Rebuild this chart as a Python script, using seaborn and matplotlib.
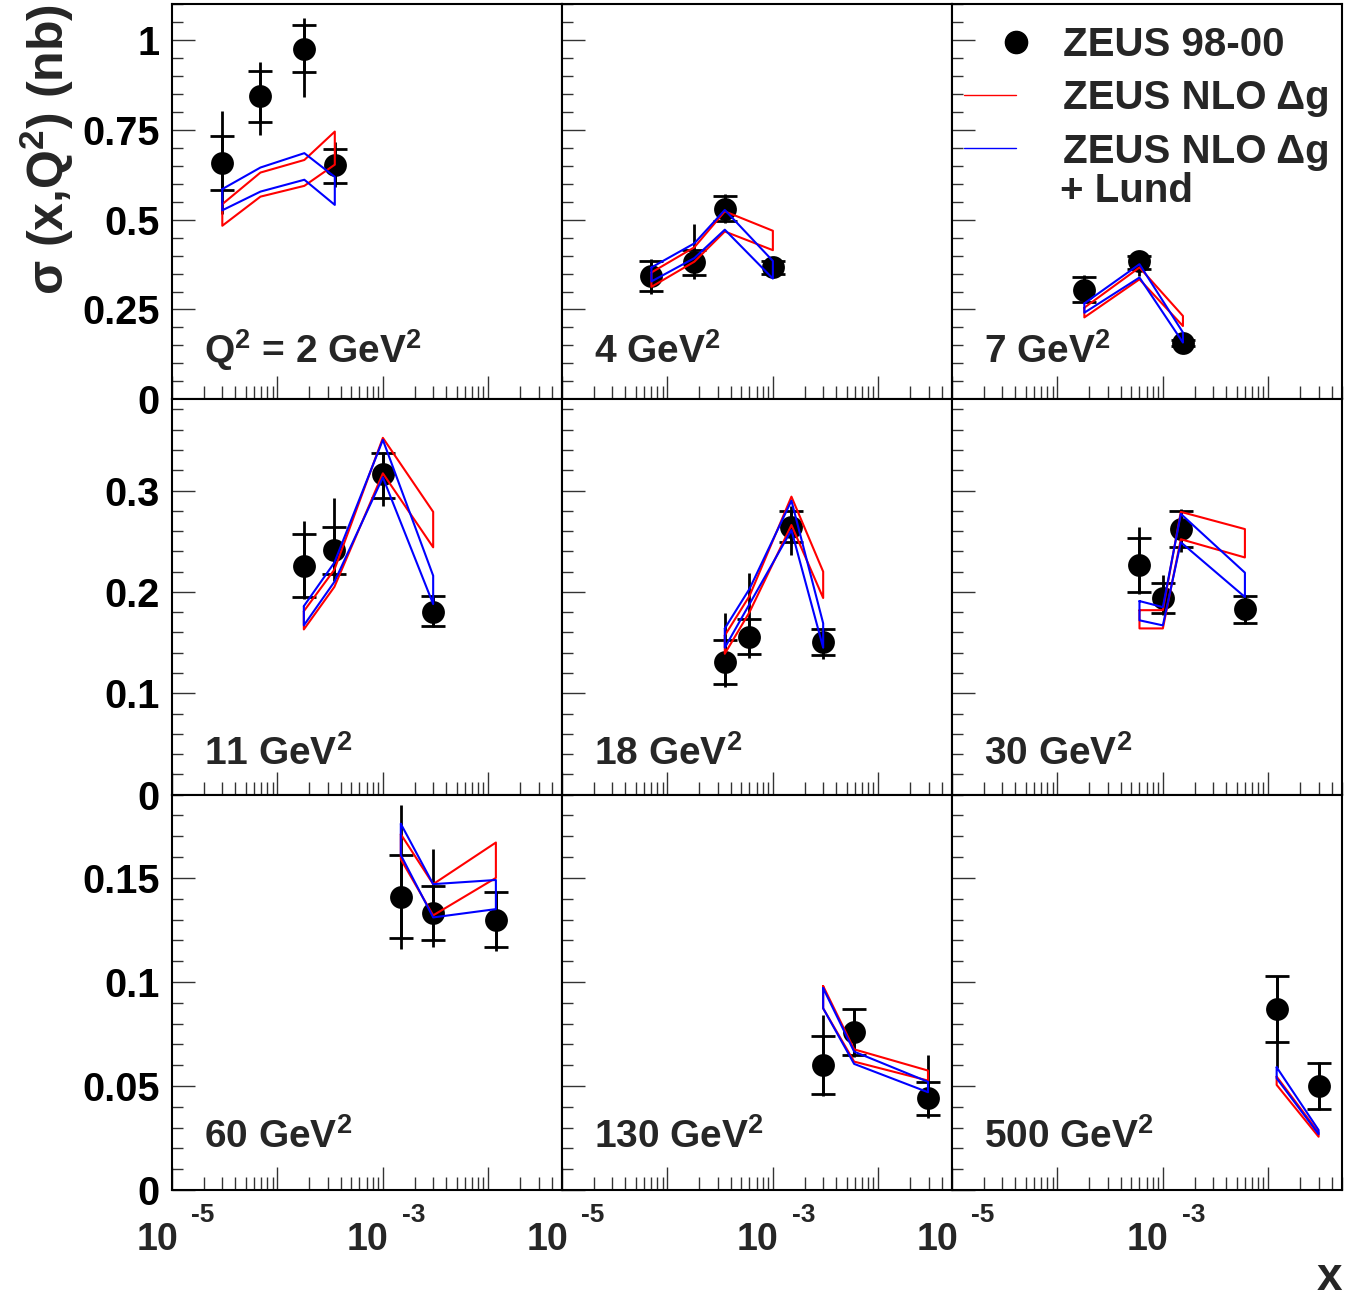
import numpy as np
import pandas as pd
import matplotlib
matplotlib.use('Agg')
import matplotlib.pyplot as plt
import seaborn as sns
from matplotlib.ticker import LogLocator, MultipleLocator, FuncFormatter, NullFormatter
from matplotlib.lines import Line2D
from matplotlib.legend_handler import HandlerLine2D

# Q^2 bins, one panel each
panel_labels = ['Q$^{2}$ = 2 GeV$^{2}$', '4 GeV$^{2}$', '7 GeV$^{2}$',
                '11 GeV$^{2}$', '18 GeV$^{2}$', '30 GeV$^{2}$',
                '60 GeV$^{2}$', '130 GeV$^{2}$', '500 GeV$^{2}$']

# x positions of the measured points in each panel
x_pts = [
    [3.0e-5, 6.9e-5, 1.8e-4, 3.5e-4],
    [7.05e-5, 1.8e-4, 3.5e-4, 1.0e-3],
    [1.8e-4, 6.0e-4, 1.55e-3],
    [1.78e-4, 3.47e-4, 1.0e-3, 3.0e-3],
    [3.5e-4, 6.0e-4, 1.5e-3, 3.0e-3],
    [6.0e-4, 1.0e-3, 1.48e-3, 6.0e-3],
    [1.48e-3, 3.0e-3, 1.18e-2],
    [3.0e-3, 5.9e-3, 2.96e-2],
    [1.2e-2, 3.0e-2],
]

# ZEUS 98-00 cross sections (nb)
sigma = [
    [0.657, 0.844, 0.975, 0.652],
    [0.343, 0.381, 0.529, 0.367],
    [0.305, 0.385, 0.156],
    [0.226, 0.241, 0.316, 0.180],
    [0.131, 0.156, 0.264, 0.151],
    [0.227, 0.194, 0.262, 0.183],
    [0.141, 0.133, 0.130],
    [0.060, 0.076, 0.044],
    [0.087, 0.050],
]

# statistical error edges (drawn with caps)
stat_hi = [
    [0.732, 0.914, 1.041, 0.696],
    [0.385, 0.415, 0.565, 0.385],
    [0.341, 0.400, 0.165],
    [0.257, 0.264, 0.337, 0.196],
    [0.153, 0.173, 0.280, 0.163],
    [0.253, 0.209, 0.280, 0.196],
    [0.161, 0.146, 0.143],
    [0.074, 0.087, 0.052],
    [0.103, 0.061],
]
stat_lo = [
    [0.583, 0.773, 0.912, 0.602],
    [0.302, 0.345, 0.497, 0.350],
    [0.272, 0.362, 0.148],
    [0.195, 0.218, 0.293, 0.166],
    [0.109, 0.139, 0.249, 0.138],
    [0.200, 0.179, 0.244, 0.169],
    [0.121, 0.120, 0.117],
    [0.046, 0.065, 0.036],
    [0.071, 0.039],
]

# total error edges (plain line)
tot_hi = [
    [0.803, 0.940, 1.061, 0.715],
    [0.390, 0.489, 0.571, 0.390],
    [0.345, 0.405, 0.168],
    [0.270, 0.293, 0.338, 0.197],
    [0.179, 0.219, 0.285, 0.164],
    [0.264, 0.217, 0.282, 0.197],
    [0.185, 0.164, 0.143],
    [0.084, 0.087, 0.065],
    [0.103, 0.0615],
]
tot_lo = [
    [0.515, 0.736, 0.842, 0.590],
    [0.292, 0.334, 0.490, 0.345],
    [0.270, 0.343, 0.145],
    [0.193, 0.211, 0.285, 0.165],
    [0.106, 0.135, 0.236, 0.134],
    [0.198, 0.177, 0.239, 0.168],
    [0.116, 0.117, 0.115],
    [0.045, 0.064, 0.0345],
    [0.0585, 0.0385],
]

# ZEUS NLO Delta g band (red)
nlo_hi = [
    [0.543, 0.631, 0.666, 0.745],
    [0.353, 0.423, 0.523, 0.469],
    [0.255, 0.367, 0.232],
    [0.181, 0.222, 0.352, 0.279],
    [0.157, 0.196, 0.294, 0.220],
    [0.182, 0.182, 0.279, 0.262],
    [0.171, 0.147, 0.167],
    [0.098, 0.0676, 0.0574],
    [0.0545, 0.0276],
]
nlo_lo = [
    [0.483, 0.564, 0.594, 0.653],
    [0.313, 0.383, 0.467, 0.415],
    [0.228, 0.334, 0.204],
    [0.163, 0.205, 0.317, 0.244],
    [0.139, 0.180, 0.266, 0.194],
    [0.164, 0.164, 0.252, 0.234],
    [0.159, 0.132, 0.150],
    [0.0873, 0.0617, 0.0526],
    [0.0505, 0.0256],
]

# ZEUS NLO Delta g + Lund band (blue)
lund_hi = [
    [0.585, 0.645, 0.685, 0.619],
    [0.367, 0.434, 0.527, 0.385],
    [0.267, 0.376, 0.186],
    [0.186, 0.229, 0.350, 0.216],
    [0.164, 0.203, 0.290, 0.169],
    [0.191, 0.185, 0.277, 0.219],
    [0.176, 0.147, 0.149],
    [0.097, 0.0665, 0.052],
    [0.059, 0.0288],
]
lund_lo = [
    [0.526, 0.578, 0.611, 0.541],
    [0.328, 0.393, 0.472, 0.336],
    [0.241, 0.339, 0.158],
    [0.167, 0.210, 0.313, 0.188],
    [0.145, 0.188, 0.261, 0.145],
    [0.172, 0.167, 0.249, 0.195],
    [0.161, 0.131, 0.135],
    [0.0873, 0.0606, 0.047],
    [0.0537, 0.0268],
]

row_ylim = [1.1, 0.39, 0.19]
row_major = [0.25, 0.1, 0.05]
row_minor = [0.05, 0.02, 0.01]
label_y = [0.093, 0.076, 0.106]
x_label_exps = [-5, -3]

sns.set_style('ticks')
plt.rcParams['font.family'] = ['Liberation Sans', 'DejaVu Sans']
plt.rcParams['font.weight'] = 'bold'
plt.rcParams['mathtext.fontset'] = 'custom'
plt.rcParams['mathtext.rm'] = 'Liberation Sans:bold'
plt.rcParams['mathtext.bf'] = 'Liberation Sans:bold'
plt.rcParams['mathtext.sf'] = 'Liberation Sans:bold'
plt.rcParams['mathtext.default'] = 'bf'


def band_frame(xs, hi, lo):
    # closed outline: upper edge left->right, lower edge back, close
    bx = list(xs) + list(xs[::-1]) + [xs[0]]
    by = list(hi) + list(lo[::-1]) + [hi[0]]
    return pd.DataFrame({'x': bx, 'y': by})


class RightMarker(HandlerLine2D):
    # ROOT-style legend: marker sits at the right end of the entry box
    def get_xdata(self, legend, xdescent, ydescent, width, height, fontsize):
        right = width - xdescent
        return np.array([right - 1.0, right + 1.0]), [right]


fig, axes = plt.subplots(3, 3, figsize=(13.47, 12.98), dpi=100,
                         sharex=True, sharey='row',
                         gridspec_kw=dict(wspace=0, hspace=0,
                                          left=172 / 1347, right=1342 / 1347,
                                          top=1 - 4 / 1298, bottom=1 - 1190 / 1298))

for i in range(9):
    r, c = divmod(i, 3)
    ax = axes[r][c]
    ax.set_xscale('log')
    xs = np.array(x_pts[i])
    ys = np.array(sigma[i])

    # total errors
    ax.vlines(xs, tot_lo[i], tot_hi[i], color='black', lw=2.0, zorder=2)
    # statistical errors with caps
    ax.errorbar(xs, ys, yerr=[ys - np.array(stat_lo[i]), np.array(stat_hi[i]) - ys],
                fmt='none', ecolor='black', elinewidth=2.0, capsize=8.5, capthick=2.0, zorder=2)
    sns.scatterplot(x=xs, y=ys, ax=ax, color='black', s=270, linewidth=0, zorder=3)

    sns.lineplot(data=band_frame(xs, nlo_hi[i], nlo_lo[i]), x='x', y='y', sort=False,
                 estimator=None, color='#ff0000', lw=1.5, ax=ax, zorder=4)
    sns.lineplot(data=band_frame(xs, lund_hi[i], lund_lo[i]), x='x', y='y', sort=False,
                 estimator=None, color='#0000ff', lw=1.5, ax=ax, zorder=5)

    ax.set_xlim(1e-5, 0.05)
    ax.set_ylim(0, row_ylim[r])
    ax.set_xlabel('')
    ax.set_ylabel('')

    ax.xaxis.set_major_locator(LogLocator(base=10, numticks=20))
    ax.xaxis.set_minor_locator(LogLocator(base=10, subs=np.arange(2, 10), numticks=20))
    ax.xaxis.set_minor_formatter(NullFormatter())
    ax.xaxis.set_major_formatter(NullFormatter())
    ax.yaxis.set_major_locator(MultipleLocator(row_major[r]))
    ax.yaxis.set_minor_locator(MultipleLocator(row_minor[r]))
    ax.yaxis.set_major_formatter(FuncFormatter(lambda v, p: '%g' % round(v, 3)))

    ax.tick_params(axis='both', which='both', direction='in', top=False, right=False,
                   colors='#333333', width=1.0, labelcolor='black')
    ax.tick_params(axis='y', which='major', length=16.5, pad=9, labelsize=28.5)
    ax.tick_params(axis='y', which='minor', length=8)
    ax.tick_params(axis='x', which='major', length=16.5)
    ax.tick_params(axis='x', which='minor', length=9.5)
    for sp in ax.spines.values():
        sp.set_linewidth(1.5)
        sp.set_color('black')

    ax.text(0.082, label_y[r], panel_labels[i], transform=ax.transAxes,
            fontsize=28, fontweight='bold', ha='left', va='baseline')

    # ROOT-style decade labels 10^-5, 10^-3 on the bottom row
    if r == 2:
        for e in x_label_exps:
            ax.annotate('10', xy=(10.0 ** e, 0), xycoords=('data', 'axes fraction'),
                        xytext=(4.3, -43), textcoords='offset points', ha='right',
                        va='baseline', fontsize=27, fontweight='bold', annotation_clip=False)
            ax.annotate('%d' % e, xy=(10.0 ** e, 0), xycoords=('data', 'axes fraction'),
                        xytext=(13.5, -23), textcoords='offset points', ha='left',
                        va='baseline', fontsize=19, fontweight='bold', annotation_clip=False)

# legend in the top-right panel
leg_ax = axes[0][2]
handles = [Line2D([], [], marker='o', color='black', ls='none', ms=16),
           Line2D([], [], color='#ff0000', lw=1.0),
           Line2D([], [], color='#0000ff', lw=1.0)]
leg = leg_ax.legend(handles, ['ZEUS 98-00', 'ZEUS NLO Δg', 'ZEUS NLO Δg'],
                    loc='upper left', bbox_to_anchor=(0.0, 0.975), frameon=False,
                    fontsize=29, handlelength=1.3, handletextpad=1.15,
                    labelspacing=0.38, borderaxespad=0.2, borderpad=0.1,
                    handler_map={handles[0]: RightMarker(numpoints=1)})
leg_ax.text(0.277, 0.5, '+ Lund', transform=leg_ax.transAxes,
            fontsize=29, fontweight='bold', ha='left', va='baseline')

axes[0][0].set_ylabel('σ (x,Q$^{2}$) (nb)', loc='top', fontsize=36,
                      fontweight='bold', labelpad=4)
xl_ax = axes[2][2]
xl_ax.set_xlabel('x', loc='right', fontsize=33, fontweight='bold')
xl_ax.xaxis.set_label_coords(1.0, -(1290 - 1190) / 395)
xl_ax.xaxis.label.set_va('baseline')

fig.savefig('out.png', dpi=100)
